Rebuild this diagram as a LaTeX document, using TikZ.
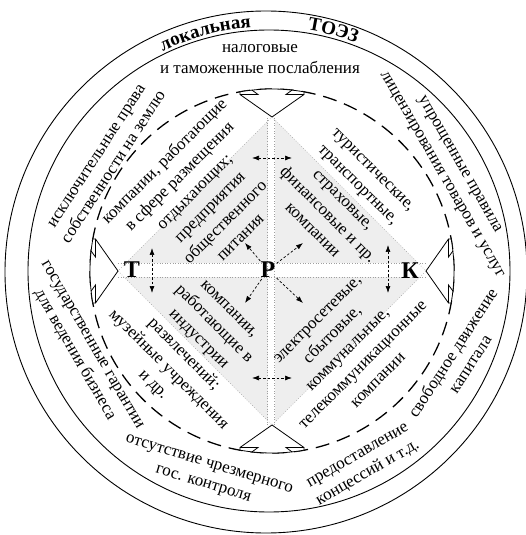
\documentclass[tikz,border=0pt]{standalone}
\usepackage{fontspec}
\setmainfont{Liberation Serif}
\usetikzlibrary{arrows.meta,decorations.text}
\begin{document}
\begin{tikzpicture}[x=1pt,y=1pt,
  txt/.style={font=\fontsize{17}{20.5}\selectfont, align=center, inner sep=0pt},
  dtxt/.style={font=\fontsize{17}{21.5}\selectfont, align=center, inner sep=0pt},
  ltr/.style={font=\fontsize{24}{24}\selectfont\bfseries, inner sep=1pt},
  dotln/.style={draw=gray!75, dotted, line width=0.6pt},
  ring/.style={draw=black, line width=0.9pt},
  dar/.style={dash pattern=on 2.5pt off 2pt, line width=0.7pt, {Latex[length=7pt,width=5pt]}-{Latex[length=7pt,width=5pt]}},
  sar/.style={dash pattern=on 2.5pt off 2pt, line width=0.7pt, -{Latex[length=7pt,width=5pt]}},
  bolt/.style={draw=black, fill=white, line width=0.8pt, line join=miter},
]
\useasboundingbox (-272,-264) rectangle (253,271);
\fill[white] (-272,-264) rectangle (253,271);

% rings
\draw[ring] (-6,-1) circle[radius=261];
\draw[ring] (-3,0) circle[radius=241];
\draw[line width=1.3pt, dash pattern=on 14pt off 8pt] (0,0) circle[radius=182];

% curved title
\path[decorate, decoration={text along path, text align=center,
  text={|\fontsize{19}{19}\selectfont\bfseries|локальная}}]
  ([shift={(-3,0)}]125:244) arc[start angle=125, end angle=85, radius=244];
\path[decorate, decoration={text along path, text align=center,
  text={|\fontsize{19}{19}\selectfont\bfseries|ТОЭЗ}}]
  ([shift={(-3,0)}]95:244) arc[start angle=95, end angle=55, radius=244];

% diamond
\fill[gray!13] (0,154) -- (154,0) -- (0,-154) -- (-154,0) -- cycle;
\fill[white] (-154,-6) rectangle (155,8);
\fill[white] (-4.5,-154) rectangle (2.5,154);
\draw[dotln] (0,154) -- (154,0) -- (0,-154) -- (-154,0) -- cycle;
\draw[dotln] (-154,8) -- (155,8);
\draw[dotln] (-154,-6) -- (155,-6);
\draw[dotln] (-4.5,-154) -- (-4.5,154);
\draw[dotln] (2.5,-154) -- (2.5,154);

% broken arrows on the dashed circle
\foreach \a in {0,90,180,270} {
  \begin{scope}[rotate=\a]
    \filldraw[bolt] (0,154) -- (-32,176.5) -- (100.13:182)
      arc[start angle=100.13, end angle=79.87, radius=182] -- (32,176.5) -- cycle;
    \draw[line width=0.8pt] (-32,176.5) -- (-14,176.5) -- (96.31:182);
    \draw[line width=0.8pt] (32,176.5) -- (14,176.5) -- (83.69:182);
  \end{scope}
}

% outer ring texts
\node[txt] (o1) at (-12,212) {налоговые\\и таможенные послабления};
\node[txt, rotate=57] (o2) at (-166.5,109) {исключительные права\\собственности на землю};
\node[txt, rotate=-60] (o3) at (178,101) {упрощенные правила\\лицензирования товаров и услуг};
\node[txt, rotate=-60] (o4) at (-189.5,-79.5) {государственные гарантии\\для ведения бизнеса};
\node[txt, rotate=57] (o5) at (189,-87) {свободное движение\\капитала};
\node[txt, rotate=30] (o6) at (91.5,-194.5) {предоставление\\концессий и т.д.};
\node[txt, rotate=-17] (o7) at (-66,-204) {отсутствие чрезмерного\\гос. контроля};

% diamond texts
\node[dtxt, rotate=45] (d1) at (-70.5,72.5) {компании, работающие\\в сфере размещения\\отдыхающих;\\предприятия\\общественного\\питания};
\node[dtxt, rotate=-45] (d2) at (70.75,70.75) {туристические,\\транспортные,\\страховые,\\финансовые и пр.\\компании};
\node[dtxt, rotate=-45] (d3) at (-82,-77) {компании,\\работающие в\\индустрии\\развлечений;\\музейные учреждения\\и др.};
\node[dtxt, rotate=45] (d4) at (76,-79) {электросетевые,\\сбытовые,\\коммунальные,\\телекоммуникационные\\компании};

% letters
\node[ltr] (T) at (-140,1) {Т};
\node[ltr] (P) at (-4,1) {Р};
\node[ltr] (K) at (138,0) {К};

% dashed arrows
\coordinate (ta1) at (-120,23); \coordinate (ta2) at (-120,-22);
\coordinate (ka1) at (116,26);  \coordinate (ka2) at (116,-22);
\coordinate (up1) at (-20,113); \coordinate (up2) at (20,113);
\coordinate (dn1) at (-20,-107); \coordinate (dn2) at (20,-107);
\draw[dar] (ta1) -- (ta2);
\draw[dar] (ka1) -- (ka2);
\draw[dar] (up1) -- (up2);
\draw[dar] (dn1) -- (dn2);
\coordinate (pa1) at (-27,28); \coordinate (pa2) at (31,28);
\coordinate (pa3) at (-27,-32); \coordinate (pa4) at (31,-32);
\draw[sar] (P) -- (pa1);
\draw[sar] (P) -- (pa2);
\draw[sar] (P) -- (pa3);
\draw[sar] (P) -- (pa4);
\end{tikzpicture}
\end{document}
